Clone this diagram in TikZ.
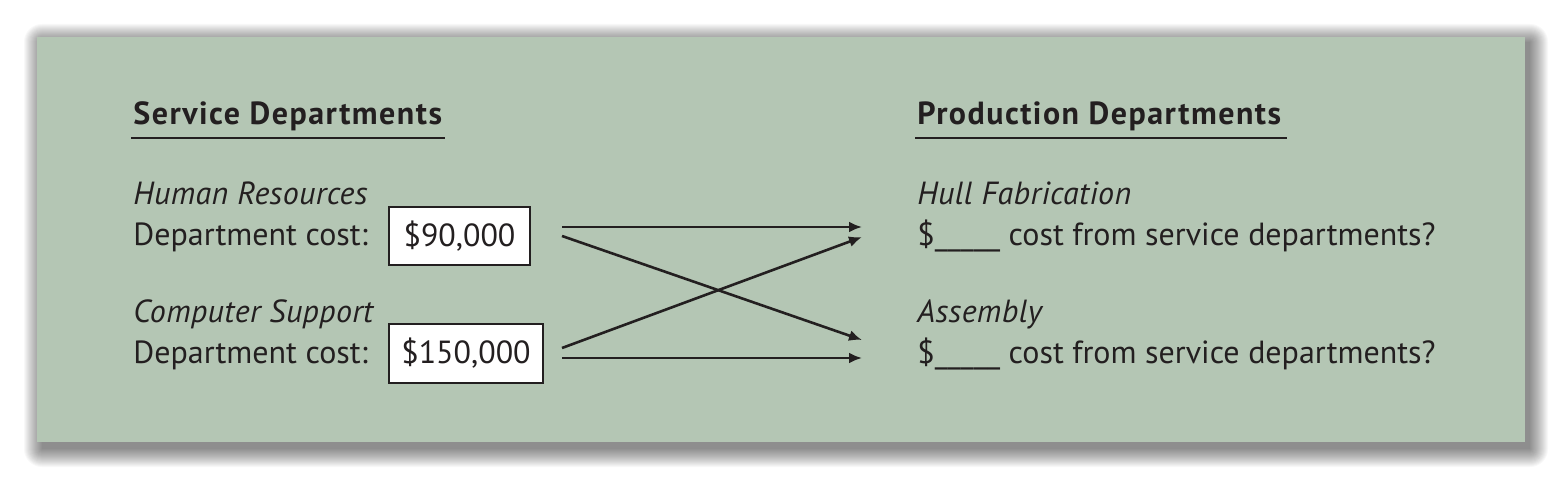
\documentclass[tikz,border=0pt]{standalone}
\usepackage{fontspec}
\setmainfont{PT Sans}
\usetikzlibrary{arrows.meta}
\definecolor{panel}{RGB}{180,198,180}
\definecolor{ink}{RGB}{35,31,32}
\tikzset{
  txt/.style={anchor=base west, inner sep=0pt, text=ink, font=\fontsize{16}{19}\selectfont},
  head/.style={txt, font=\fontsize{16}{19}\selectfont\bfseries\addfontfeature{LetterSpace=4.6}},
  ital/.style={txt, font=\fontsize{16}{19}\selectfont\itshape\addfontfeature{LetterSpace=1.2}},
  costbox/.style={draw=ink, line width=1pt, fill=white, inner sep=0pt, text=ink, font=\fontsize{16}{19}\selectfont},
  flow/.style={draw=ink, line width=1.3pt, -{Latex[length=6.5pt,width=5.5pt]}},
  rule/.style={draw=ink, line width=1.1pt}
}
\begin{document}
\begin{tikzpicture}[x=0.5pt,y=-0.5pt]
\useasboundingbox (0,0) rectangle (1562,480);
\fill[white] (0,0) rectangle (1562,480);
% shadow
\foreach \i in {0,...,18}{
  \fill[black, opacity=0.027, rounded corners=\i*0.5pt] (42-\i,42-\i) rectangle (1530+\i,449+\i);
}
\fill[panel] (37,37) rectangle (1525,442);
% headings
\node[head] (sd) at (133,125) {Service Departments};
\draw[rule] (131,138) -- (445,138);
\node[head] (pd) at (917,125) {Production Departments};
\draw[rule] (915,138) -- (1287,138);
% left side
\node[ital] (hr) at (133,205) {Human Resources};
\node[txt] (dc1) at (133,246) {Department cost:};
\node[costbox, minimum width=70.5pt, minimum height=29pt] (box1) at (459.5,236) {\$90,000};
\node[ital] (cs) at (133,323) {Computer Support};
\node[txt] (dc2) at (133,364) {Department cost:};
\node[costbox, minimum width=77pt, minimum height=29.5pt] (box2) at (466,353.5) {\$150,000};
% right side
\node[ital] (hf) at (917,205) {Hull Fabrication};
\node[txt] (hfc) at (917,246) {\$\_\_\_\_\_ cost from service departments?};
\node[ital] (as) at (917,323) {Assembly};
\node[txt] (asc) at (917,364) {\$\_\_\_\_\_ cost from service departments?};
% arrows
\coordinate (s1) at (562,227);
\coordinate (s2) at (562,236);
\coordinate (s3) at (562,348);
\coordinate (s4) at (562,358);
\coordinate (e1) at (862,227);
\coordinate (e2) at (862,340);
\coordinate (e3) at (862,237);
\coordinate (e4) at (862,358);
\draw[flow] (s1) -- (e1);
\draw[flow] (s2) -- (e2);
\draw[flow] (s3) -- (e3);
\draw[flow] (s4) -- (e4);
\end{tikzpicture}
\end{document}
